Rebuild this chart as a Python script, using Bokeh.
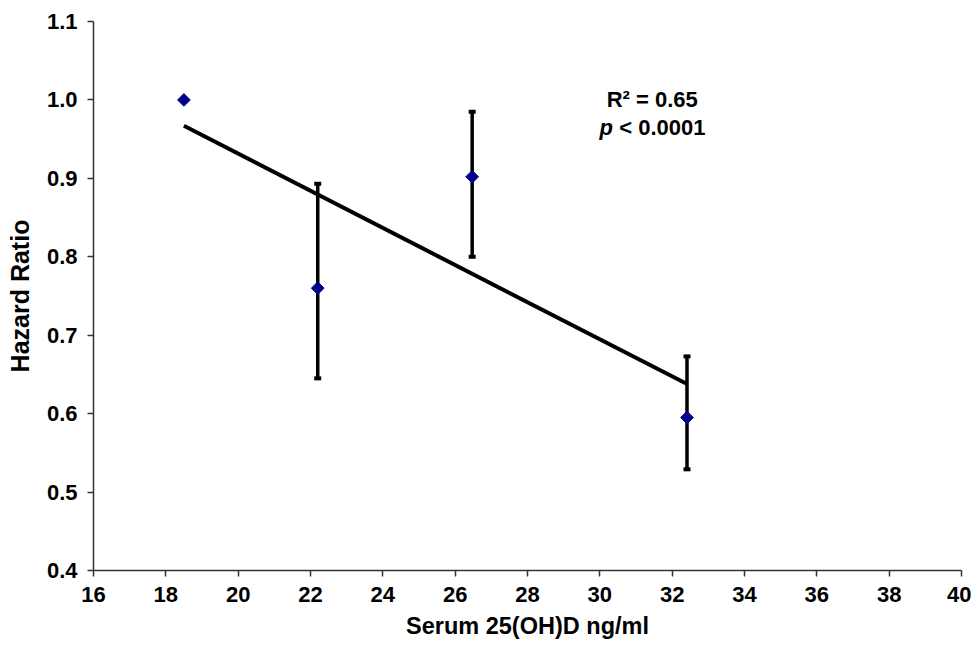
import math
from bokeh.plotting import figure
from bokeh.models import ColumnDataSource, Whisker, TeeHead, Label, Range1d, CustomJSTickFormatter
from bokeh.embed import file_html
from bokeh.resources import INLINE

# Data
serum = [18.5, 22.2, 26.47, 32.41]
hazard = [1.0, 0.76, 0.902, 0.595]
upper_ci = [None, 0.893, 0.985, 0.673]
lower_ci = [None, 0.645, 0.800, 0.529]
trend_x = [18.5, 32.4]
trend_y = [0.967, 0.638]
x_ticks = list(range(16, 41, 2))
y_ticks = [0.4, 0.5, 0.6, 0.7, 0.8, 0.9, 1.0, 1.1]

FONT = "Liberation Sans"

p = figure(frame_width=868, frame_height=549, output_backend="svg", toolbar_location=None,
           x_range=Range1d(16, 40), y_range=Range1d(0.4, 1.1))
p.min_border_top = 21
p.min_border_left = 93
p.min_border_right = 10
p.min_border_bottom = 3
p.outline_line_color = None
p.xgrid.visible = False
p.ygrid.visible = False

p.xaxis.ticker = x_ticks
p.yaxis.ticker = y_ticks
p.yaxis.formatter = CustomJSTickFormatter(code="return tick.toFixed(1);")

for ax in (p.xaxis, p.yaxis):
    ax.axis_line_color = "#333333"
    ax.axis_line_width = 1.5
    ax.major_tick_line_color = "#333333"
    ax.major_tick_line_width = 1.5
    ax.major_tick_out = 6
    ax.major_tick_in = 0
    ax.minor_tick_line_color = None
    ax.major_label_text_font = FONT
    ax.major_label_text_font_style = "bold"
    ax.major_label_text_font_size = "22px"
    ax.major_label_text_color = "black"
    ax.axis_label_text_font = FONT
    ax.axis_label_text_font_style = "bold"
    ax.axis_label_text_color = "black"

p.xaxis.axis_label_text_font_size = "23.5px"
p.yaxis.axis_label_text_font_size = "25px"
p.xaxis.axis_label = "Serum 25(OH)D ng/ml"
p.yaxis.axis_label = "Hazard Ratio"
p.xaxis.major_label_standoff = 10
p.yaxis.major_label_standoff = 10
p.xaxis.axis_label_standoff = 8
p.yaxis.axis_label_standoff = 10

# Regression line
p.line(trend_x, trend_y, line_color="black", line_width=4)

# Error bars
eb = [(x, u, l) for x, u, l in zip(serum, upper_ci, lower_ci) if u is not None]
err_src = ColumnDataSource(dict(x=[e[0] for e in eb], upper=[e[1] for e in eb], lower=[e[2] for e in eb]))
w = Whisker(source=err_src, base="x", upper="upper", lower="lower", dimension="height",
            line_color="black", line_width=3.5,
            upper_head=TeeHead(size=7, line_width=4, line_color="black"),
            lower_head=TeeHead(size=7, line_width=4, line_color="black"))
p.add_layout(w)

# Points (diamonds)
p.scatter(serum, hazard, marker="square", angle=math.pi / 4, size=9,
          fill_color="#00008B", line_color="#00008B")

# Annotation
p.add_layout(Label(x=31.45, y=1.0, text="R² = 0.65", text_font=FONT, text_font_style="bold",
                   text_font_size="22px", text_align="center", text_baseline="middle",
                   text_color="black"))
p.add_layout(Label(x=30.18, y=0.965, text="p", text_font=FONT, text_font_style="bold italic",
                   text_font_size="22px", text_align="center", text_baseline="middle",
                   text_color="black"))
p.add_layout(Label(x=31.73, y=0.965, text="< 0.0001", text_font=FONT, text_font_style="bold",
                   text_font_size="22px", text_align="center", text_baseline="middle",
                   text_color="black"))

open("out.html", "w").write(file_html(p, INLINE))
